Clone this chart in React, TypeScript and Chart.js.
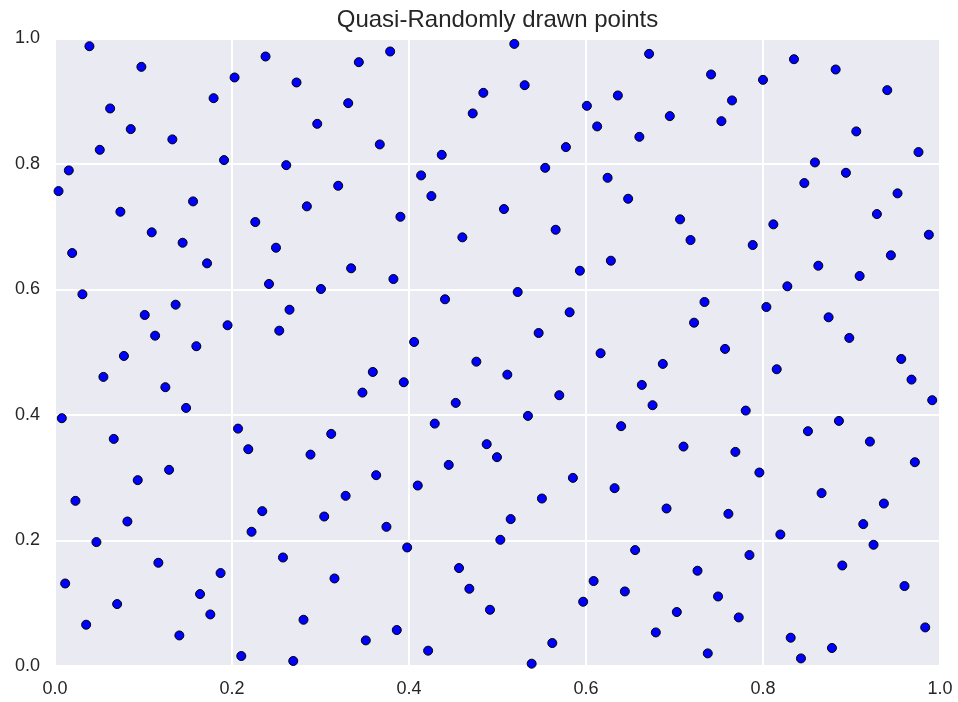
import React, { useEffect, useRef } from "react";
import { Chart, registerables } from "chart.js";

Chart.register(...registerables);

const chartTitle = "Quasi-Randomly drawn points";
const xTicks = [0, 0.2, 0.4, 0.6, 0.8, 1.0];
const yTicks = [0, 0.2, 0.4, 0.6, 0.8, 1.0];

// x coordinates of the drawn points
const pointsX = [
  0.0389, 0.0976, 0.2029, 0.2379, 0.2729, 0.3313, 0.1792, 0.0623, 0.0856, 0.1326,
  0.0506, 0.2963, 0.1910, 0.2613, 0.0156, 0.0040, 0.3200, 0.1560, 0.0739, 0.2846,
  0.2263, 0.1093, 0.1442, 0.2497, 0.0194, 0.1718, 0.3346, 0.2418, 0.3005, 0.0310,
  0.1363, 0.1014, 0.2650, 0.1950, 0.1131, 0.2534, 0.1597, 0.0779,
  0.0547, 0.1247, 0.1481, 0.0077, 0.0664, 0.2068, 0.2184, 0.3121, 0.2887, 0.1289,
  0.0935, 0.3284, 0.0231, 0.0818, 0.2342, 0.3042, 0.2221, 0.0468, 0.1168, 0.2576,
  0.1871, 0.0115, 0.3158, 0.1639, 0.0702, 0.1755, 0.2808, 0.0352, 0.1405, 0.2105,
  0.2692,
  0.3787, 0.3433, 0.3670, 0.5190, 0.5307, 0.4840, 0.4720, 0.4370, 0.6010, 0.6360,
  0.6126, 0.6603, 0.5773, 0.5539, 0.4137, 0.4253, 0.6244, 0.6476, 0.3903, 0.5073,
  0.5657, 0.4603, 0.3824, 0.6281, 0.5931, 0.5228, 0.4407, 0.5815, 0.5465, 0.4058,
  0.6165,
  0.4761, 0.3591, 0.3941, 0.5111, 0.3474, 0.4528, 0.5698, 0.6631, 0.5344, 0.4291,
  0.6397, 0.4878, 0.4994, 0.4449, 0.3629, 0.5852, 0.4099, 0.6323, 0.5502, 0.5149,
  0.3745, 0.5032, 0.3979, 0.6555, 0.4565, 0.6086, 0.4682, 0.6439, 0.5968, 0.4915,
  0.3862, 0.3512, 0.5619, 0.4216, 0.5386,
  0.6713, 0.7413, 0.8350, 0.8821, 0.8000, 0.9404, 0.7650, 0.6947, 0.7530, 0.9054,
  0.9757, 0.8587, 0.8937, 0.8467, 0.9520, 0.9287, 0.7063, 0.8117, 0.7181, 0.7884,
  0.9874, 0.9445, 0.8625, 0.9092, 0.8275, 0.7339, 0.8038, 0.8741, 0.7221, 0.8975,
  0.7571, 0.6868, 0.6752, 0.8155, 0.9562, 0.9678, 0.9912, 0.7805, 0.8858, 0.8508,
  0.9208, 0.7102, 0.7688, 0.9716, 0.7959, 0.8662, 0.9366, 0.6910, 0.7609, 0.9133,
  0.8196, 0.9249, 0.7847, 0.7260, 0.8896, 0.7492, 0.7026, 0.7726, 0.9599, 0.9833,
  0.6789, 0.8313, 0.8779, 0.7376, 0.8429,
];

// y coordinates of the drawn points
const pointsY = [
  0.9877, 0.9548, 0.9379, 0.9713, 0.9299, 0.8970, 0.9049, 0.8885, 0.8556, 0.8392,
  0.8226, 0.8640, 0.8062, 0.7982, 0.7898, 0.7568, 0.7653, 0.7404, 0.7239, 0.7325,
  0.7075, 0.6911, 0.6745, 0.6666, 0.6581, 0.6417, 0.6338, 0.6088, 0.6008, 0.5924,
  0.5758, 0.5594, 0.5678, 0.5430, 0.5264, 0.5344, 0.5096, 0.4941,
  0.4607, 0.4443, 0.4113, 0.3949, 0.3619, 0.3783, 0.3455, 0.3699, 0.3369, 0.3126,
  0.2962, 0.2712, 0.2632, 0.2303, 0.2468, 0.2382, 0.2139, 0.1975, 0.1645, 0.1729,
  0.1481, 0.1315, 0.1395, 0.1146, 0.0987, 0.0822, 0.0737, 0.0658, 0.0487, 0.0159,
  0.0080,
  0.9793, 0.9623, 0.8312, 0.9914, 0.9256, 0.9134, 0.8806, 0.8146, 0.8927, 0.9092,
  0.8599, 0.8433, 0.8269, 0.7939, 0.7818, 0.7489, 0.7780, 0.7446, 0.7159, 0.7282,
  0.6952, 0.6831, 0.6167, 0.6459, 0.6299, 0.5960, 0.5844, 0.5637, 0.5307, 0.5164,
  0.4984,
  0.4850, 0.4686, 0.4522, 0.4643, 0.4357, 0.4193, 0.4315, 0.4479, 0.3986, 0.3863,
  0.3822, 0.3535, 0.3328, 0.3205, 0.3041, 0.2998, 0.2876, 0.2834, 0.2669, 0.2341,
  0.2218, 0.2011, 0.1889, 0.1847, 0.1561, 0.1354, 0.1231, 0.1188, 0.1024, 0.0896,
  0.0573, 0.0408, 0.0366, 0.0244, 0.0037,
  0.9755, 0.9427, 0.9670, 0.9506, 0.9341, 0.9177, 0.9013, 0.8763, 0.8683, 0.8519,
  0.8190, 0.8025, 0.7860, 0.7696, 0.7532, 0.7202, 0.7118, 0.7038, 0.6788, 0.6709,
  0.6873, 0.6545, 0.6379, 0.6215, 0.6051, 0.5801, 0.5721, 0.5557, 0.5471, 0.5228,
  0.5053, 0.4814, 0.4156, 0.4729, 0.4893, 0.4564, 0.4236, 0.4070, 0.3906, 0.3742,
  0.3576, 0.3497, 0.3412, 0.3248, 0.3083, 0.2755, 0.2589, 0.2510, 0.2425, 0.2261,
  0.2096, 0.1932, 0.1768, 0.1518, 0.1602, 0.1108, 0.0860, 0.0774, 0.1274, 0.0615,
  0.0535, 0.0451, 0.0287, 0.0201, 0.0121,
];

const FONT = "'Liberation Sans', Arial, sans-serif";
const TEXT_COLOR = "#262626";

const plotBackground = {
  id: "plotBackground",
  beforeDraw(chart: any) {
    const { ctx, chartArea } = chart;
    if (!chartArea) return;
    ctx.save();
    ctx.fillStyle = "#EAEAF2";
    ctx.fillRect(chartArea.left, chartArea.top, chartArea.right - chartArea.left, chartArea.bottom - chartArea.top);
    ctx.restore();
  },
};

const centeredTitle = {
  id: "centeredTitle",
  afterDraw(chart: any) {
    const { ctx, chartArea } = chart;
    if (!chartArea) return;
    ctx.save();
    ctx.fillStyle = TEXT_COLOR;
    ctx.font = `normal 24px ${FONT}`;
    ctx.textAlign = "center";
    ctx.textBaseline = "middle";
    ctx.fillText(chartTitle, (chartArea.left + chartArea.right) / 2, 20);
    ctx.restore();
  },
};

export default function App() {
  const canvasRef = useRef<HTMLCanvasElement | null>(null);

  useEffect(() => {
    document.body.style.margin = "0";
    const canvas = canvasRef.current;
    if (!canvas) return;
    const data = pointsX.map((x, i) => ({ x, y: pointsY[i] }));
    const chart = new Chart(canvas, {
      type: "scatter",
      data: {
        datasets: [
          {
            data,
            backgroundColor: "#0000FF",
            borderColor: "#000000",
            borderWidth: 1,
            pointRadius: 4.5,
            pointHoverRadius: 4.5,
            clip: false as any,
          },
        ],
      },
      options: {
        animation: false,
        responsive: false,
        devicePixelRatio: 1,
        layout: { padding: { left: 0, right: 18, top: 38.5, bottom: 0 } },
        plugins: {
          legend: { display: false },
          tooltip: { enabled: false },
          title: { display: false },
        },
        scales: {
          x: {
            type: "linear",
            min: 0,
            max: 1,
            afterBuildTicks: (scale: any) => {
              scale.ticks = xTicks.map((v) => ({ value: v }));
            },
            afterFit: (scale: any) => {
              scale.height = 36;
              scale.paddingLeft = 0;
              scale.paddingRight = 0;
            },
            ticks: {
              color: TEXT_COLOR,
              font: { family: FONT, size: 18 },
              padding: 12,
              maxRotation: 0,
              callback: (v: any) => Number(v).toFixed(1),
            },
            grid: { color: "#FFFFFF", lineWidth: 2, drawTicks: false },
            border: { display: false },
          },
          y: {
            type: "linear",
            min: 0,
            max: 1,
            afterBuildTicks: (scale: any) => {
              scale.ticks = yTicks.map((v) => ({ value: v }));
            },
            afterFit: (scale: any) => {
              scale.width = 55;
              scale.paddingTop = 0;
              scale.paddingBottom = 0;
            },
            ticks: {
              color: TEXT_COLOR,
              font: { family: FONT, size: 18 },
              padding: 15,
              callback: (v: any) => Number(v).toFixed(1),
            },
            grid: { color: "#FFFFFF", lineWidth: 2, drawTicks: false },
            border: { display: false },
          },
        },
      },
      plugins: [plotBackground, centeredTitle],
    });
    return () => chart.destroy();
  }, []);

  return (
    <div style={{ width: 958, height: 702 }}>
      <canvas ref={canvasRef} width={958} height={702} style={{ display: "block", width: 958, height: 702 }} />
    </div>
  );
}
